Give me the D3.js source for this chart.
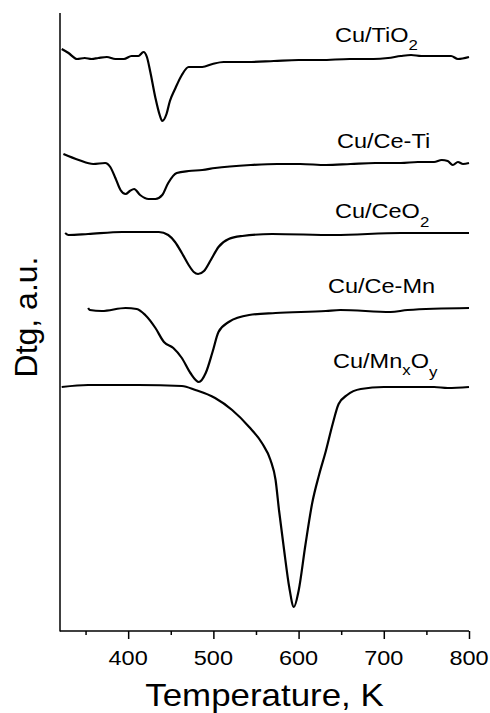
<!DOCTYPE html>
<html>
  <head>
    <script src="https://cdnjs.cloudflare.com/ajax/libs/d3/7.8.5/d3.min.js"></script>
    <style>
      body { margin: 0; background: #fff; }
      text { font-family: "Liberation Sans", Arial, sans-serif; fill: #000; }
    </style>
  </head>
  <body>
    <div id="vis"></div>
    <script type="text/javascript">

        // temperatures (K) and Dtg values (a.u., offset curves)
        const tiO2T = [322, 330, 340, 349, 357, 365, 375, 385, 395, 404, 412, 418, 422, 426, 432, 437, 440, 445, 449, 455, 463, 471, 487, 499, 512, 540, 571, 600, 626, 660, 688, 705, 720, 732, 744, 760, 779, 787, 800];
        const tiO2V = [582, 578, 572, 573, 572, 573, 574, 572, 572, 575, 575, 579, 574, 559, 533, 516, 510, 517, 530, 542, 556, 564, 564, 567, 569, 569, 570, 571, 571, 572, 572, 573, 575, 576, 575, 575, 575, 572, 574];

        const ceTiT = [324, 342, 359, 373, 379, 385, 391, 397, 402, 407, 414, 424, 432, 440, 447, 457, 471, 487, 502, 544, 575, 602, 632, 661, 690, 720, 740, 759, 768, 775, 781, 787, 793, 800];
        const ceTiV = [477, 471, 467, 468, 464, 453, 441, 437, 440, 442, 436, 432, 432, 436, 448, 458, 460, 461, 463, 466, 467, 467, 466, 467, 468, 468, 469, 469, 471, 470, 466, 469, 467, 468];

        const ceO2T = [326, 330, 353, 393, 408, 436, 447, 455, 463, 471, 477, 482, 489, 497, 506, 518, 534, 569, 642, 720, 800];
        const ceO2V = [398, 396, 397, 399, 399, 399, 396, 389, 378, 366, 359, 357, 360, 371, 384, 392, 395, 397, 396, 398, 398];

        const ceMnT = [353, 355, 369, 397, 410, 420, 432, 442, 453, 463, 473, 483, 491, 499, 506, 518, 542, 573, 632, 649, 708, 728, 800];
        const ceMnV = [323, 321, 320, 323, 322, 316, 303, 289, 283, 273, 258, 249, 258, 279, 299, 309, 316, 318, 320, 321, 319, 321, 323];

        const mnOT = [322, 353, 412, 463, 479, 502, 522, 542, 557, 567, 573, 577, 583, 589, 594.5, 600, 608, 616, 624, 632, 640, 647, 657, 673, 700, 759, 775, 800];
        const mnOV = [244, 246, 246, 245, 241, 233, 221, 204, 188, 171, 151, 121, 81, 44, 24, 40, 86, 128, 156, 180, 207, 227, 236, 242, 244, 244, 243, 244];

        const xTicks = [400, 500, 600, 700, 800];
        const xMinor = [350, 450, 550, 650, 750];

        const series = [
            {t: tiO2T, v: tiO2V},
            {t: ceTiT, v: ceTiV},
            {t: ceO2T, v: ceO2V},
            {t: ceMnT, v: ceMnV},
            {t: mnOT, v: mnOV}
        ];

        const svg = d3.select("#vis")
            .append("svg")
            .attr("width", 490)
            .attr("height", 713);

        const x = d3.scaleLinear().domain([320, 800]).range([60, 469]);
        const y = d3.scaleLinear().domain([0, 618]).range([631, 13]);

        const line = d3.line()
            .x(d => x(d[0]))
            .y(d => y(d[1]))
            .curve(d3.curveMonotoneX);

        svg.selectAll("path.curve")
            .data(series)
            .enter()
            .append("path")
            .attr("class", "curve")
            .attr("d", s => line(d3.zip(s.t, s.v)))
            .attr("fill", "none")
            .attr("stroke", "#000")
            .attr("stroke-width", 2.2)
            .attr("stroke-linejoin", "round");

        // axes
        const xAxis = svg.append("g")
            .attr("transform", "translate(0,631)")
            .call(d3.axisBottom(x).tickValues(xTicks).tickSize(8).tickFormat(""));
        svg.append("g")
            .attr("transform", "translate(0,631)")
            .call(d3.axisBottom(x).tickValues(xMinor).tickSize(4).tickFormat(""))
            .select(".domain").remove();
        svg.selectAll(".tick line").attr("stroke-width", 1.5);
        xAxis.select(".domain").attr("stroke-width", 1.5).attr("d", "M60,0H469");

        svg.append("line")
            .attr("x1", 60).attr("x2", 60)
            .attr("y1", y(618)).attr("y2", 631.5)
            .attr("stroke", "#000")
            .attr("stroke-width", 1.5);

        svg.selectAll("text.tick")
            .data(xTicks)
            .enter()
            .append("text")
            .attr("class", "tick")
            .attr("transform", d => `translate(${x(d)},665) scale(1.12,1)`)
            .attr("text-anchor", "middle")
            .style("font-size", "21px")
            .text(d => d);

        svg.append("text")
            .attr("transform", "translate(264.5,706) scale(1.09,1)")
            .attr("text-anchor", "middle")
            .style("font-size", "32px")
            .text("Temperature, K");

        svg.append("text")
            .attr("transform", "translate(37,317) rotate(-90)")
            .attr("text-anchor", "middle")
            .style("font-size", "32px")
            .text("Dtg, a.u.");

        // curve labels
        function label(px, py, parts) {
            const t = svg.append("text")
                .attr("transform", `translate(${px},${py}) scale(1.12,1)`)
                .style("font-size", "21px");
            parts.forEach(p => {
                t.append("tspan")
                    .attr("dy", p.dy || 0)
                    .style("font-size", p.sub ? "15px" : "21px")
                    .text(p.s);
            });
        }

        label(335, 42, [{s: "Cu/TiO"}, {s: "2", sub: true, dy: 8}]);
        label(337, 148, [{s: "Cu/Ce-Ti"}]);
        label(335, 218, [{s: "Cu/CeO"}, {s: "2", sub: true, dy: 9}]);
        label(328, 293, [{s: "Cu/Ce-Mn"}]);
        label(333, 368, [{s: "Cu/Mn"}, {s: "x", sub: true, dy: 7}, {s: "O", dy: -7}, {s: "y", sub: true, dy: 9}]);

    </script>
  </body>
</html>
